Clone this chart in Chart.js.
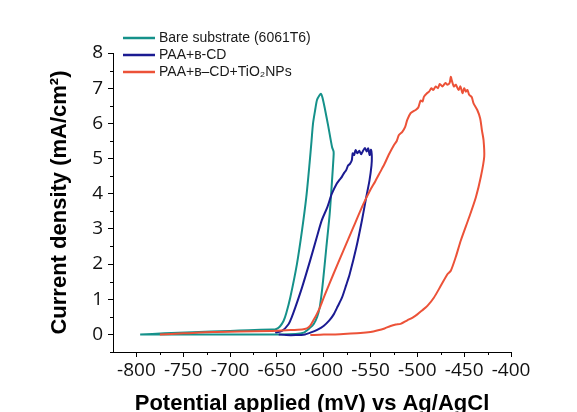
<!DOCTYPE html>
<html><head><meta charset="utf-8">
<script src="https://cdn.jsdelivr.net/npm/chart.js@4.4.1/dist/chart.umd.min.js"></script>
<style>html,body{margin:0;padding:0;background:#fff}#wrap{width:577px;height:412px}</style>
</head><body><div id="wrap"><canvas id="c" width="577" height="412"></canvas></div>
<script>
// ---- data ----
const seriesLabels = ["Bare substrate (6061T6)", "PAA+\u0299-CD", "PAA+\u0299\u2013CD+TiO\u2082NPs"];
const xTicks = [-800, -750, -700, -650, -600, -550, -500, -450, -400];
const yTicks = [0, 1, 2, 3, 4, 5, 6, 7, 8];
const xMinorTicks = [-775, -725, -675, -625, -575, -525, -475, -425];
const yMinorTicks = [-0.5, 0.5, 1.5, 2.5, 3.5, 4.5, 5.5, 6.5, 7.5];

const bareX = [-796, -760, -720, -680, -650, -630, -621.5, -615, -610.8, -607, -604.3, -602.5, -600.7, -597.2, -593.6, -591.1, -589.6, -589.4, -591.1, -595, -599, -601.5, -602.9, -604.5, -607.1, -609, -611.4, -613, -615.1, -618.6, -623.2, -628.6, -635.7, -640, -642.9, -647, -651.8, -655, -680, -700, -740, -770, -796];
const bareY = [0, 0, 0, 0, 0, 0.01, 0.05, 0.18, 0.29, 0.5, 0.76, 1.1, 1.52, 2.47, 3.43, 4.38, 5.0, 5.19, 5.33, 5.9, 6.45, 6.75, 6.84, 6.8, 6.67, 6.4, 6.0, 5.5, 4.86, 3.9, 2.95, 2.0, 1.05, 0.6, 0.38, 0.22, 0.14, 0.14, 0.12, 0.1, 0.06, 0.03, 0];

const cdX = [-648, -640, -630, -620, -614.3, -607, -600.1, -594, -589.3, -585, -580.4, -576, -572.3, -565.2, -559.2, -554.6, -551.1, -549, -548.6, -549.5, -551, -552.5, -554, -556, -558, -560, -562, -564, -566, -567.5, -569, -570, -572, -574, -576, -578, -580.6, -583, -586, -591.3, -596.1, -602.1, -607.4, -614.6, -623.2, -630.4, -634, -637.6, -644.6, -651.8];
const cdY = [0, -0.02, -0.02, 0, 0.05, 0.13, 0.24, 0.4, 0.57, 0.8, 1.05, 1.4, 1.71, 2.47, 3.24, 3.9, 4.38, 4.8, 5.05, 5.25, 5.1, 5.29, 5.2, 5.3, 5.22, 5.12, 5.22, 5.15, 5.24, 5.1, 5.15, 4.95, 4.85, 4.8, 4.67, 4.6, 4.48, 4.4, 4.29, 4.0, 3.62, 3.24, 2.76, 2.09, 1.33, 0.76, 0.5, 0.29, 0.1, 0.05];

const tioX = [-614.3, -600, -589.3, -575, -560.8, -550, -543, -535, -528.6, -523, -517.9, -510.8, -505, -500, -495, -489.3, -482.2, -475, -467.9, -464.3, -459, -453.6, -444.7, -437.5, -432.2, -428.6, -429.3, -431.1, -432.9, -436, -440, -442, -444.7, -446.5, -448.2, -450, -451.8, -454, -456, -459, -461, -463, -464.3, -465.5, -467.9, -470, -473.2, -476, -478, -480.4, -483, -485, -487.5, -490, -492.9, -494.5, -496.5, -499, -501.8, -504, -507.2, -510.8, -513, -516.1, -519.7, -522, -525.1, -530.7, -535, -539.6, -545, -550.4, -557.6, -568.3, -579, -589.7, -598.6, -603.5, -607.5, -611, -614.6, -618, -623.2, -640, -657, -690, -718, -750, -775];
const tioY = [-0.02, 0, 0, 0.02, 0.04, 0.07, 0.11, 0.17, 0.24, 0.28, 0.3, 0.4, 0.48, 0.57, 0.68, 0.81, 1.05, 1.38, 1.71, 1.81, 2.2, 2.67, 3.33, 3.9, 4.48, 5.05, 5.52, 5.81, 6.14, 6.38, 6.57, 6.75, 6.81, 6.95, 6.9, 7.0, 6.86, 7.05, 6.95, 7.1, 7.05, 7.2, 7.32, 7.15, 7.1, 7.15, 7.05, 7.12, 7.0, 7.05, 6.95, 7.0, 6.9, 6.85, 6.76, 6.62, 6.65, 6.45, 6.38, 6.35, 6.29, 6.1, 5.9, 5.76, 5.67, 5.5, 5.38, 5.1, 4.85, 4.62, 4.35, 4.1, 3.71, 3.05, 2.38, 1.71, 1.14, 0.8, 0.57, 0.4, 0.24, 0.17, 0.14, 0.12, 0.1, 0.08, 0.07, 0.03, 0];

// ---- build ----
const seriesColors = ["#15918a", "#1b1b92", "#ec5238"];
const pts = (xs, ys) => xs.map((x, i) => ({x: x, y: ys[i]}));
const allX = [bareX, cdX, tioX], allY = [bareY, cdY, tioY];
const datasets = seriesLabels.map((lab, i) => ({
  label: lab, data: pts(allX[i], allY[i]), showLine: true, pointRadius: 0,
  borderColor: seriesColors[i], backgroundColor: seriesColors[i], borderWidth: 2,
  tension: 0.25, fill: false, order: 3 - i
}));

const extras = {
  id: 'extras',
  afterDraw(chart) {
    const ctx = chart.ctx, xs = chart.scales.x, ys = chart.scales.y;
    const ca = chart.chartArea;
    ctx.save();
    ctx.strokeStyle = '#000'; ctx.lineWidth = 1;
    ctx.beginPath();
    xMinorTicks.forEach(v => { const p = Math.round(xs.getPixelForValue(v)) + 0.5; ctx.moveTo(p, ca.bottom); ctx.lineTo(p, ca.bottom + 3); });
    yMinorTicks.forEach(v => { const p = Math.round(ys.getPixelForValue(v)) + 0.5; ctx.moveTo(ca.left, p); ctx.lineTo(ca.left - 3, p); });
    ctx.stroke();
    // legend
    ctx.font = '14px "Liberation Sans", Arial, sans-serif';
    ctx.textBaseline = 'middle';
    chart.data.datasets.forEach((ds, i) => {
      const y = 38 + i * 17;
      ctx.strokeStyle = ds.borderColor; ctx.lineWidth = 2.5;
      ctx.beginPath(); ctx.moveTo(123, y); ctx.lineTo(155, y); ctx.stroke();
      ctx.fillStyle = '#1a1a1a';
      ctx.fillText(ds.label, 159, y);
    });
    ctx.restore();
  }
};

new Chart(document.getElementById('c'), {
  type: 'scatter',
  data: { datasets: datasets },
  plugins: [extras],
  options: {
    responsive: false, devicePixelRatio: 1, animation: false,
    layout: { padding: { top: 53, right: 66, bottom: 0, left: 0 } },
    plugins: { legend: { display: false }, tooltip: { enabled: false } },
    scales: {
      x: {
        type: 'linear', min: -825, max: -400,
        afterBuildTicks: s => { s.ticks = xTicks.map(v => ({value: v})); },
        afterFit: s => { s.height = 60; },
        ticks: { font: { family: 'Open Sans', size: 19 }, color: '#111', padding: 2, maxRotation: 0, autoSkip: false, callback: v => String(v) },
        grid: { drawOnChartArea: false, drawTicks: true, tickLength: 5, tickColor: '#000', color: '#000' },
        border: { display: true, color: '#000', width: 1 },
        title: { display: true, text: 'Potential applied (mV) vs Ag/AgCl', color: '#000', font: { family: 'Liberation Sans', size: 22, weight: 'bold', lineHeight: 1 }, padding: { top: 0, bottom: -3 } }
      },
      y: {
        type: 'linear', min: -0.5, max: 8,
        afterBuildTicks: s => { s.ticks = yTicks.map(v => ({value: v})); },
        afterFit: s => { s.width = 113; },
        ticks: { font: { family: 'Open Sans', size: 19 }, color: '#111', padding: 5, callback: v => String(v) },
        grid: { drawOnChartArea: false, drawTicks: true, tickLength: 5, tickColor: '#000', color: '#000' },
        border: { display: true, color: '#000', width: 1 },
        title: { display: true, text: 'Current density (mA/cm\u00B2)', color: '#000', font: { family: 'Liberation Sans', size: 22, weight: 'bold', lineHeight: 1 }, padding: { top: 49, bottom: 0 } }
      }
    }
  }
});
</script></body></html>
